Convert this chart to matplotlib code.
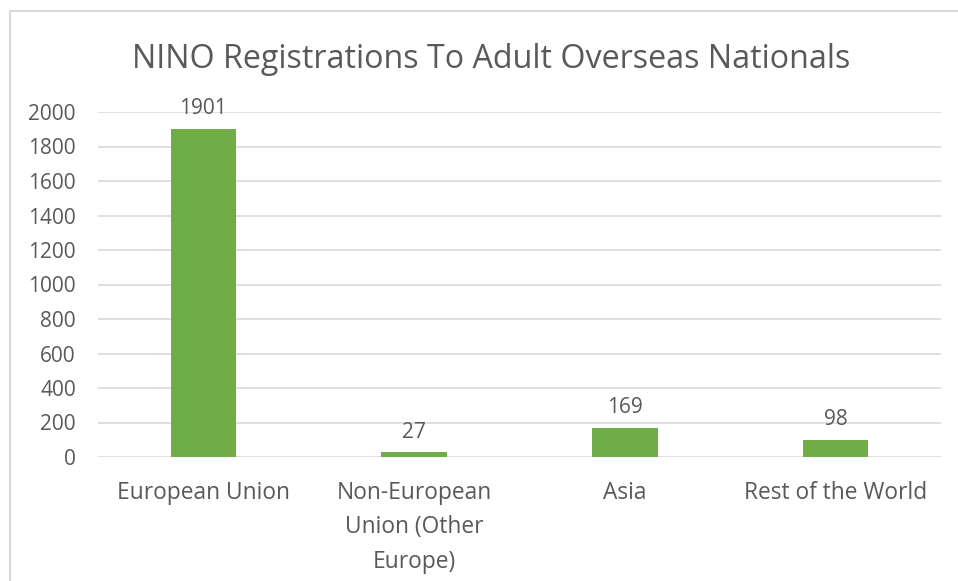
import matplotlib.pyplot as plt
from matplotlib.patches import Rectangle

categories = ["European Union", "Non-European\nUnion (Other\nEurope)", "Asia", "Rest of the World"]
values = [1901, 27, 169, 98]
yticks = [0, 200, 400, 600, 800, 1000, 1200, 1400, 1600, 1800, 2000]

plt.rcParams['font.family'] = ['Open Sans', 'DejaVu Sans']
text_col = "#595959"
W, H = 958, 581

fig = plt.figure(figsize=(W / 100, H / 100), dpi=100)
ax = fig.add_axes([98 / W, (H - 457) / H, (941 - 98) / W, (457 - 112) / H])

# outer chart border (cropped at right and bottom)
fig.patches.append(Rectangle((10 / W, -0.1), 1.2, (H - 11) / H + 0.1, transform=fig.transFigure,
                             fill=False, edgecolor="#D9D9D9", linewidth=1.5))

x = range(len(categories))
bars = ax.bar(x, values, width=0.31, color="#70AD47", zorder=3)
ax.bar_label(bars, labels=[str(v) for v in values], padding=7, fontsize=15, color=text_col)

ax.set_xlim(-0.5, 3.5)
ax.set_ylim(0, 2000)
ax.set_yticks(yticks)
ax.set_xticks(list(x))
ax.set_xticklabels(categories, fontsize=16.4, color=text_col, linespacing=1.6)
ax.tick_params(axis="y", labelsize=15, labelcolor=text_col, length=0, pad=16)
ax.tick_params(axis="x", length=0, pad=17)
ax.grid(axis="y", color="#D9D9D9", linewidth=1.2, zorder=0)
for s in ax.spines.values():
    s.set_visible(False)

fig.text(491 / W, 1 - 60 / H, "NINO Registrations To Adult Overseas Nationals",
         ha="center", va="center", fontsize=23.2, color=text_col)

fig.savefig("out.png", dpi=100)
